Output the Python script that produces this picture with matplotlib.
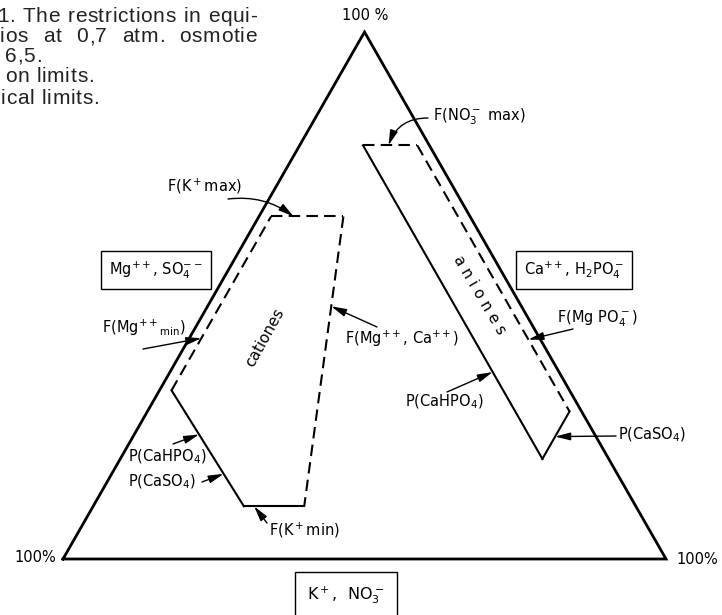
import numpy as np
import matplotlib
matplotlib.use("Agg")
import matplotlib.pyplot as plt

W, H = 722, 615

# cation field corners, % of total cations (Ca++ = 100 - K - Mg)
CAT_K = [65, 65, 10, 10, 32]
CAT_MG = [2, 14, 35, 25, 2]

# anion field corners, % of total anions (H2PO4- = 100 - NO3 - SO4)
AN_NO3 = [78.5, 78.5, 28, 19]
AN_SO4 = [10.5, 19.5, 70, 70]

CAPTION = ["1. The restrictions in equi-",
           "ios at 0,7 atm. osmotie",
           "6,5.",
           "on limits.",
           "ical limits."]

S3 = np.sqrt(3) / 2


def tern(top, right):
    # top vertex = 100 % of first ion, bottom right = 100 % of second
    top = np.asarray(top, float) / 100
    right = np.asarray(right, float) / 100
    return right + top / 2, top * S3


def along(xs, ys, i, t):
    j = (i + 1) % len(xs)
    return xs[i] + t * (xs[j] - xs[i]), ys[i] + t * (ys[j] - ys[i])


def px(x, y):
    return (x, H - y)


plt.rcParams["mathtext.fontset"] = "dejavusans"
fig = plt.figure(figsize=(W / 100, H / 100), dpi=100)
ax = fig.add_axes([0, 0, 1, 1])
ax.set_xlim(-63 / 603, (W - 63) / 603)
ax.set_ylim((559 - H) / 608.5, 559 / 608.5)
ax.axis("off")

# outer triangle
ax.plot([0, 1, 0.5, 0], [0, 0, S3, 0], color="k", lw=2.0, solid_joinstyle="miter")

dash = dict(dashes=(5.5, 3.0))
cx, cy = tern(CAT_K, CAT_MG)
for i, ls in enumerate(["--", "--", "-", "-", "--"]):
    j = (i + 1) % len(cx)
    kw = dash if ls == "--" else {}
    ax.plot([cx[i], cx[j]], [cy[i], cy[j]], color="k", lw=1.5, ls=ls, **kw)

nx, ny = tern(AN_NO3, AN_SO4)
for i, ls in enumerate(["--", "--", "-", "-"]):
    j = (i + 1) % len(nx)
    kw = dash if ls == "--" else {}
    ax.plot([nx[i], nx[j]], [ny[i], ny[j]], color="k", lw=1.5, ls=ls, **kw)

ax.text(*tern(42, 12.5), "cationes", rotation=61, ha="center", va="center",
        fontsize=11, rotation_mode="anchor")
ax.text(*tern(50, 44), "a n i o n e s", rotation=-59.5, ha="center", va="center",
        fontsize=11, rotation_mode="anchor")


def arrow(start, target, rad=0.0):
    ax.annotate("", xy=target, xycoords="data", xytext=px(*start),
                textcoords="figure pixels",
                arrowprops=dict(arrowstyle="-|>,head_length=0.7,head_width=0.18",
                                mutation_scale=13, lw=1.0, color="k",
                                shrinkA=0, shrinkB=0,
                                connectionstyle=f"arc3,rad={rad}"))


def label(x, y, s, ha="left", size=10.5, **kw):
    return fig.text(x / W, 1 - y / H, s, ha=ha, va="center", fontsize=size, **kw)


arrow((428, 118), along(nx, ny, 0, 0.47), rad=0.35)
label(433, 117, r"F(NO$_3^-$ max)")
arrow((228, 199), along(cx, cy, 0, 0.31), rad=-0.2)
label(167, 186, r"F(K$^+$max)")
arrow((143, 349), along(cx, cy, 4, 0.30))
label(102, 328, r"F(Mg$^{++}$$_{\mathrm{min}}$)")
arrow((377, 327), along(cx, cy, 1, 0.31))
label(345, 339, r"F(Mg$^{++}$, Ca$^{++}$)")
arrow((573, 329), along(nx, ny, 1, 0.73))
label(557, 319, r"F(Mg PO$_4^-$)")
arrow((447, 392), along(nx, ny, 3, 0.277))
label(405, 402, r"P(CaHPO$_4$)")
arrow((616, 436), along(nx, ny, 2, 0.53))
label(618, 435, r"P(CaSO$_4$)")
arrow((173, 444), along(cx, cy, 3, 0.62))
label(128, 457, r"P(CaHPO$_4$)")
arrow((202, 482), along(cx, cy, 3, 0.28))
label(128, 482, r"P(CaSO$_4$)")
arrow((267, 523), along(cx, cy, 2, 0.83))
label(269, 530, r"F(K$^+$min)")

label(365, 15, "100 %", ha="center")
label(56, 558, "100%", ha="right")
label(676, 559, "100%")

box = dict(boxstyle="square,pad=0.55", fc="white", ec="k", lw=1.0)
label(156, 270, r"Mg$^{++}$, SO$_4^{--}$", ha="center", bbox=box)
label(574, 270, r"Ca$^{++}$, H$_2$PO$_4^-$", ha="center", bbox=box)
label(346, 595, r"K$^+$,  NO$_3^-$", ha="center", size=11.5,
      bbox=dict(boxstyle="square,pad=0.75", fc="white", ec="k", lw=1.0))

# caption block: slightly letter-spaced, first two lines justified
cap = dict(size=15, family="Liberation Sans", color="#222222")
renderer = fig.canvas.get_renderer()
probe = label(0, 0, "", **cap)


def width(s):
    probe.set_text(s)
    return probe.get_window_extent(renderer).width


def tracked(x0, y, s, track=0.7, right=None):
    extra = 0.0
    if right is not None:
        natural = width(s) + track * (len(s) - 1)
        extra = (right - x0 - natural) / max(s.count(" "), 1)
    spaces = 0
    for i, ch in enumerate(s):
        if ch == " ":
            spaces += 1
            continue
        x = x0 + width(s[:i + 1]) - width(ch) + track * i + extra * spaces
        label(x, y, ch, **cap)


tracked(-3, 16, CAPTION[0], right=257)
tracked(0, 37, CAPTION[1], right=257)
for line, y, x0 in zip(CAPTION[2:], [56, 77, 98], [5, 5, 1]):
    tracked(x0, y, line)
probe.set_text("")

fig.savefig("out.png", dpi=100)
